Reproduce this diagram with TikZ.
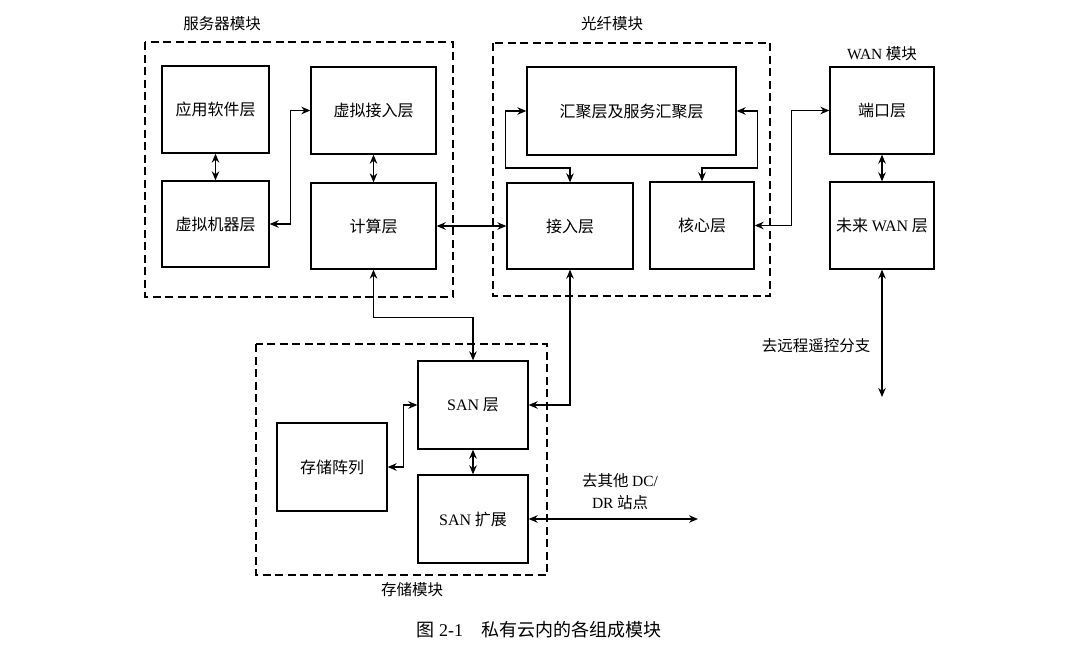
\documentclass[tikz,border=0pt]{standalone}
\usepackage{fontspec}
\setmainfont{Noto Sans CJK SC}
\newfontfamily\latin{Liberation Serif}
\newcommand{\en}[1]{{\latin #1}}
\usepackage{tikz}
\usetikzlibrary{arrows.meta, calc}

\begin{document}
\begin{tikzpicture}[x=1pt, y=-1pt]

% ---- Styles -----------------------------------------------------------------
\tikzset{
  layer/.style={draw, line width=1.3pt, align=center, inner sep=0pt,
                font=\fontsize{16}{19}\selectfont},
  module/.style={draw, line width=1.3pt, dash pattern=on 8pt off 4.5pt},
  title/.style={font=\fontsize{15.5}{22}\selectfont, align=center},
  link/.style={line width=1.3pt, {Stealth[length=9pt, width=7.5pt]}-{Stealth[length=9pt, width=7.5pt]}},
}

\useasboundingbox (0,0) rectangle (1077,645);

% ---- Dashed modules ---------------------------------------------------------
\draw[module] (145,42) rectangle (453,297);   % server
\draw[module] (493,43) rectangle (770,296);   % fibre
\draw[module] (256,344) rectangle (547,575);  % storage

\node[title] (tserver)  at (222,24)  {服务器模块};
\node[title] (tfibre)   at (612,24)  {光纤模块};
\node[title] (twan)     at (882,54)  {\en{WAN} 模块};
\node[title] (tstorage) at (412,590) {存储模块};

% ---- Server module ----------------------------------------------------------
\node[layer, minimum width=107pt, minimum height=87pt] (app)     at (215.5,109.5) {应用软件层};
\node[layer, minimum width=107pt, minimum height=86pt] (vm)      at (215.5,224)   {虚拟机器层};
\node[layer, minimum width=125pt, minimum height=87pt] (vaccess) at (373.5,110.5) {虚拟接入层};
\node[layer, minimum width=125pt, minimum height=86pt] (compute) at (373.5,226)   {计算层};

% ---- Fibre module -----------------------------------------------------------
\node[layer, minimum width=209pt, minimum height=88pt] (agg)    at (631.5,111) {汇聚层及服务汇聚层};
\node[layer, minimum width=126pt, minimum height=86pt] (access) at (570,226)   {接入层};
\node[layer, minimum width=104pt, minimum height=87pt] (core)   at (702,225.5) {核心层};

% ---- WAN module -------------------------------------------------------------
\node[layer, minimum width=104pt, minimum height=87pt] (port) at (882,110.5) {端口层};
\node[layer, minimum width=104pt, minimum height=87pt] (wan)  at (882,225.5) {未来 \en{WAN} 层};

% ---- Storage module ---------------------------------------------------------
\node[layer, minimum width=110pt, minimum height=88pt] (san)    at (473,405) {\en{SAN} 层};
\node[layer, minimum width=110pt, minimum height=88pt] (sanext) at (473,519) {\en{SAN} 扩展};
\node[layer, minimum width=110pt, minimum height=88pt] (array)  at (332,467) {存储阵列};

% ---- Free ends --------------------------------------------------------------
\coordinate (remote) at (882,397);
\coordinate (dcdr)   at (698,519);

\node[title] (tremote) at (816,346) {去远程遥控分支};
\node[title] (tdcdr)   at (620,492) {去其他 \en{DC/}\\\en{DR} 站点};

% ---- Connectors -------------------------------------------------------------
\draw[link] (app.south) -- (vm.north);
\draw[link] (vaccess.south) -- (compute.north);
\draw[link] (vm.east) -- ++(21,0) |- (vaccess.west);
\draw[link] (compute.east) -- (access.west);
\draw[link] (agg.west) -- ++(-21,0) -- ++(0,57) -| (access.north);
\draw[link] (agg.east) -- ++(21,0) -- ++(0,57) -| (core.north);
\draw[link] (core.east) -- ++(37,0) |- (port.west);
\draw[link] (port.south) -- (wan.north);
\draw[link] (wan.south) -- (remote);
\draw[link] (compute.south) -- ++(0,48) -| (san.north);
\draw[link] (access.south) |- (san.east);
\draw[link] (array.east) -- ++(16,0) |- (san.west);
\draw[link] (san.south) -- (sanext.north);
\draw[link] (sanext.east) -- (dcdr);

% ---- Caption ----------------------------------------------------------------
\node[font=\fontsize{18}{21}\selectfont] (caption) at (539,630) {图 \en{2-1}\quad 私有云内的各组成模块};

\end{tikzpicture}
\end{document}
